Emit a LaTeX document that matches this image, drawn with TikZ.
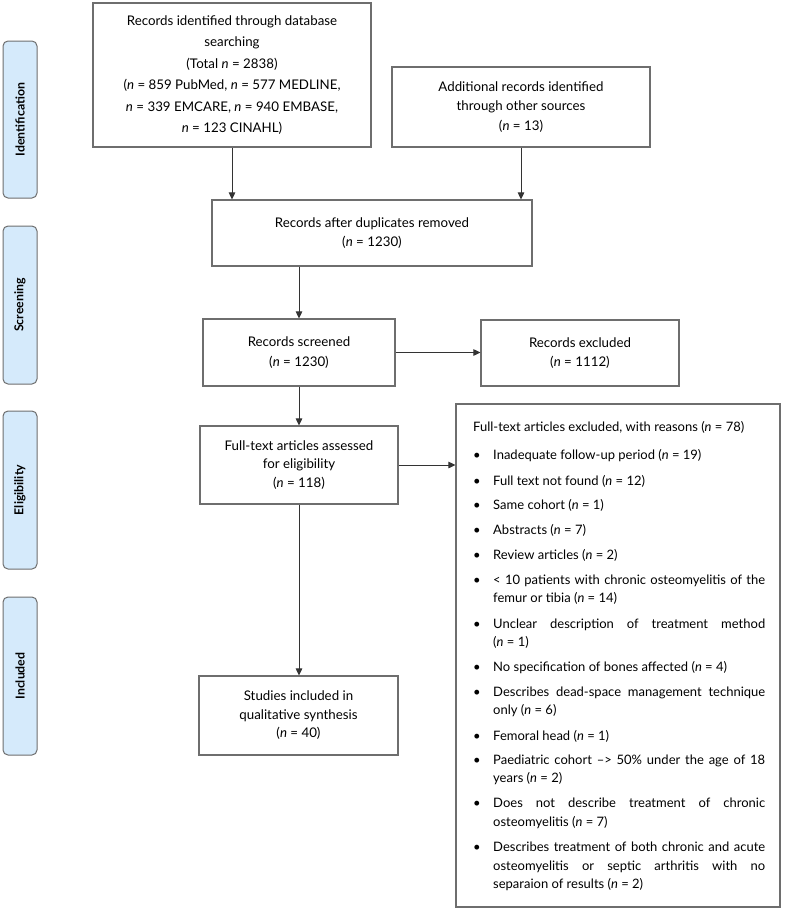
\documentclass[tikz,border=0pt]{standalone}
\usepackage{fontspec}
\setmainfont{Lato}
\usetikzlibrary{arrows.meta}
\definecolor{boxline}{HTML}{6E6E6E}
\definecolor{arr}{HTML}{333333}
\definecolor{sidefill}{HTML}{D5EAFB}
\newcommand{\nn}{\textit{n}}
\begin{document}
\begin{tikzpicture}[x=1pt,y=-1pt,
  box/.style={draw=boxline,line width=1.1pt,align=center,inner sep=0pt,font=\fontsize{13.3}{19.5}\selectfont},
  side/.style={draw=boxline,fill=sidefill,rounded corners=5pt,line width=1pt,minimum width=34pt,inner sep=0pt},
  sidetext/.style={rotate=90,font=\bfseries\fontsize{12.3}{14}\selectfont},
  arrow/.style={draw=arr,line width=0.9pt,-{Triangle[length=7pt,width=6.5pt]}},
  itemtext/.style={anchor=base west,inner sep=0pt,font=\fontsize{13}{18}\selectfont},
  bul/.style={anchor=base,inner sep=0pt,font=\fontsize{13}{18}\selectfont}]
\useasboundingbox (0,0) rectangle (785,910);

% side labels
\node[side,minimum height=157pt] (s1) at (20,119.5) {};
\node[sidetext] (s1t) at (s1.center) {Identification};
\node[side,minimum height=158pt] (s2) at (20,305) {};
\node[sidetext] (s2t) at (s2.center) {Screening};
\node[side,minimum height=158pt] (s3) at (20,490) {};
\node[sidetext] (s3t) at (s3.center) {Eligibility};
\node[side,minimum height=158pt] (s4) at (20,676) {};
\node[sidetext] (s4t) at (s4.center) {Included};

% flow boxes
\node[box,minimum width=278pt,minimum height=144pt,font=\fontsize{13.3}{21.5}\selectfont] (b1) at (232,75)
  {Records identified through database\\searching\\(Total \nn{} = 2838)\\(\nn{} = 859 PubMed, \nn{} = 577 MEDLINE,\\\nn{} = 339 EMCARE, \nn{} = 940 EMBASE,\\\nn{} = 123 CINAHL)};
\node[box,minimum width=258pt,minimum height=80pt] (b2) at (521,107)
  {Additional records identified\\through other sources\\(\nn{} = 13)};
\node[box,minimum width=320pt,minimum height=66pt] (b3) at (372,233)
  {Records after duplicates removed\\(\nn{} = 1230)};
\node[box,minimum width=192pt,minimum height=67pt] (b4) at (299,352.5)
  {Records screened\\(\nn{} = 1230)};
\node[box,minimum width=198pt,minimum height=66pt] (b5) at (580,353)
  {Records excluded\\(\nn{} = 1112)};
\node[box,minimum width=198pt,minimum height=78pt,font=\fontsize{13.3}{18.5}\selectfont] (b6) at (299,465)
  {Full-text articles assessed\\for eligibility\\(\nn{} = 118)};
\node[box,minimum width=199pt,minimum height=79pt,font=\fontsize{13.3}{18.5}\selectfont] (b7) at (298.5,715.5)
  {Studies included in\\qualitative synthesis\\(\nn{} = 40)};
\node[box,minimum width=324pt,minimum height=503pt] (big) at (618,655.5) {};

% list text
\node[itemtext] (h) at (473,431) {Full-text articles excluded, with reasons (\nn{} = 78)};
\foreach \y/\t [count=\i] in {
  459/{Inadequate follow-up period (\nn{} = 19)},
  485/{Full text not found (\nn{} = 12)},
  509/{Same cohort (\nn{} = 1)},
  534/{Abstracts (\nn{} = 7)},
  559/{Review articles (\nn{} = 2)},
  584/{\makebox[272pt][s]{< 10 patients with chronic osteomyelitis of the}},
  602/{femur or tibia (\nn{} = 14)},
  628/{\makebox[272pt][s]{Unclear description of treatment method}},
  646/{(\nn{} = 1)},
  671/{No specification of bones affected (\nn{} = 4)},
  696/{\makebox[272pt][s]{Describes dead-space management technique}},
  714/{only (\nn{} = 6)},
  740/{Femoral head (\nn{} = 1)},
  764/{\makebox[272pt][s]{Paediatric cohort –> 50\% under the age of 18}},
  782/{years (\nn{} = 2)},
  807/{\makebox[272pt][s]{Does not describe treatment of chronic}},
  826/{osteomyelitis (\nn{} = 7)},
  851/{\makebox[272pt][s]{Describes treatment of both chronic and acute}},
  870/{\makebox[272pt][s]{osteomyelitis or septic arthritis with no}},
  888/{separaion of results (\nn{} = 2)}}
  { \node[itemtext] (l\i) at (493,\y) {\t}; }
\foreach \y [count=\i] in {459,485,509,534,559,584,628,671,696,740,764,807,851}
  { \node[bul] (bu\i) at (477,\y) {•}; }

% connectors
\draw[arrow] (b1.south) -- (b1.south |- b3.north);
\draw[arrow] (b2.south) -- (b2.south |- b3.north);
\draw[arrow] (b3.south -| b4.north) -- (b4.north);
\draw[arrow] (b4.east) -- (b4.east -| b5.west);
\draw[arrow] (b4.south) -- (b6.north);
\draw[arrow] (b6.east) -- (b6.east -| big.west);
\draw[arrow] (b6.south) -- (b6.south |- b7.north);
\end{tikzpicture}
\end{document}
